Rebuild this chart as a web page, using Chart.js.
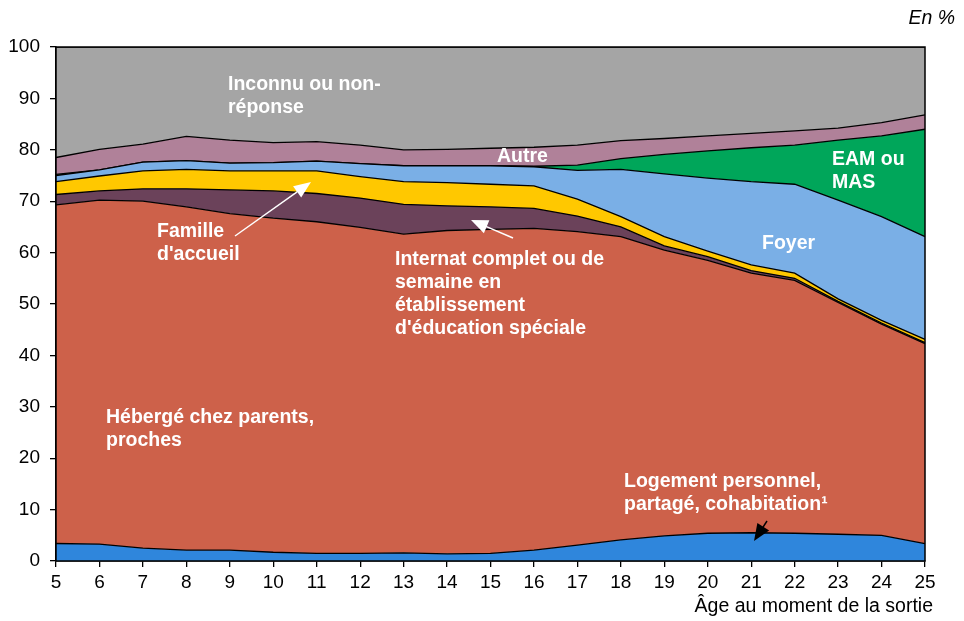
<!DOCTYPE html>
<html>
<head>
<meta charset="utf-8">
<script src="https://cdn.jsdelivr.net/npm/chart.js@4/dist/chart.umd.min.js"></script>
<style>
  html, body { margin: 0; padding: 0; background: #fff; }
  #wrap { width: 964px; height: 621px; position: relative; }
</style>
</head>
<body>
<div id="wrap"><canvas id="chart" width="964" height="621"></canvas></div>
<script>
const ages = [5, 6, 7, 8, 9, 10, 11, 12, 13, 14, 15, 16, 17, 18, 19, 20, 21, 22, 23, 24, 25];

// parts in %, from bottom to top of the stack
const logement = [3.4, 3.3, 2.5, 2.1, 2.1, 1.7, 1.5, 1.5, 1.6, 1.4, 1.5, 2.1, 3.1, 4.1, 4.9, 5.4, 5.5, 5.4, 5.2, 5.0, 3.4];
const heberge = [65.9, 66.9, 67.5, 66.8, 65.5, 65.0, 64.5, 63.4, 62.0, 62.9, 63.0, 62.6, 61.0, 59.0, 55.6, 53.1, 50.5, 49.2, 45.1, 41.1, 38.9];
const internat = [2.0, 1.8, 2.4, 3.5, 4.6, 5.3, 5.5, 5.7, 5.8, 4.8, 4.4, 3.9, 3.0, 1.9, 0.8, 0.7, 0.5, 0.4, 0.2, 0.2, 0.2];
const famille = [2.5, 2.9, 3.5, 3.8, 3.7, 3.9, 4.4, 4.2, 4.4, 4.5, 4.4, 4.4, 3.3, 2.0, 1.8, 1.1, 1.1, 1.0, 0.5, 0.5, 0.6];
const foyer = [1.2, 1.2, 1.7, 1.7, 1.5, 1.6, 1.9, 2.5, 3.1, 3.3, 3.6, 3.7, 5.6, 9.2, 12.2, 14.2, 16.2, 17.3, 19.2, 20.2, 20.0];
const eamMas = [0.2, 0, 0, 0, 0, 0, 0, 0, 0, 0, 0, 0.1, 1.0, 2.1, 3.8, 5.3, 6.6, 7.6, 11.7, 15.7, 20.9];
const autre = [3.3, 4.0, 3.5, 4.7, 4.5, 3.9, 3.8, 3.6, 3.1, 3.2, 3.4, 3.7, 3.9, 3.5, 3.1, 2.9, 2.8, 2.8, 2.3, 2.6, 2.8];
const inconnu = [21.5, 19.9, 18.9, 17.4, 18.1, 18.6, 18.4, 19.1, 20.0, 19.9, 19.7, 19.5, 19.1, 18.2, 17.8, 17.3, 16.8, 16.3, 15.8, 14.7, 13.2];

const yTicks = [0, 10, 20, 30, 40, 50, 60, 70, 80, 90, 100];

const FONT = 'Liberation Sans, Arial, sans-serif';

function layer(label, data, color, fill) {
    return {
        label: label,
        data: data,
        backgroundColor: color,
        borderColor: '#000',
        borderWidth: 1.3,
        pointRadius: 0,
        tension: 0,
        fill: fill,
    };
}

// white / black labels written on the areas
const notes = [
    { lines: ['Inconnu ou non-', 'réponse'], x: 228, y: 85 },
    { lines: ['Autre'], x: 497, y: 157 },
    { lines: ['EAM ou', 'MAS'], x: 832, y: 160 },
    { lines: ['Foyer'], x: 762, y: 244 },
    { lines: ['Famille', "d'accueil"], x: 157, y: 232 },
    { lines: ['Internat complet ou de', 'semaine en', 'établissement', "d'éducation spéciale"], x: 395, y: 260 },
    { lines: ['Hébergé chez parents,', 'proches'], x: 106, y: 418 },
    { lines: ['Logement personnel,', 'partagé, cohabitation¹'], x: 624, y: 482 },
];

const arrows = [
    { from: [235, 236], to: [311, 182], color: '#fff' },
    { from: [513, 238], to: [471, 220], color: '#fff' },
    { from: [767, 521], to: [754, 541], color: '#000' },
];

function drawArrow(ctx, a) {
    const [x1, y1] = a.from;
    const [x2, y2] = a.to;
    const ang = Math.atan2(y2 - y1, x2 - x1);
    const len = 17, half = 7;
    ctx.strokeStyle = a.color;
    ctx.fillStyle = a.color;
    ctx.lineWidth = 1.5;
    ctx.beginPath();
    ctx.moveTo(x1, y1);
    ctx.lineTo(x2 - Math.cos(ang) * len * 0.8, y2 - Math.sin(ang) * len * 0.8);
    ctx.stroke();
    ctx.beginPath();
    ctx.moveTo(x2, y2);
    ctx.lineTo(x2 - Math.cos(ang) * len + Math.sin(ang) * half, y2 - Math.sin(ang) * len - Math.cos(ang) * half);
    ctx.lineTo(x2 - Math.cos(ang) * len - Math.sin(ang) * half, y2 - Math.sin(ang) * len + Math.cos(ang) * half);
    ctx.closePath();
    ctx.fill();
}

const decorations = {
    id: 'decorations',
    afterDatasetsDraw(chart) {
        const ctx = chart.ctx;
        const area = chart.chartArea;
        ctx.save();
        // frame
        ctx.strokeStyle = '#000';
        ctx.lineWidth = 1.5;
        ctx.strokeRect(area.left, area.top, area.right - area.left, area.bottom - area.top);

        ctx.font = 'bold 19.5px ' + FONT;
        ctx.textBaseline = 'middle';
        ctx.textAlign = 'left';
        notes.forEach(n => {
            ctx.fillStyle = n.color || '#fff';
            n.lines.forEach((t, i) => ctx.fillText(t, n.x, n.y + i * 23));
        });
        arrows.forEach(a => drawArrow(ctx, a));

        ctx.fillStyle = '#000';
        ctx.font = '19.5px ' + FONT;
        ctx.textAlign = 'right';
        ctx.fillText('Âge au moment de la sortie', 933, 607);
        ctx.font = 'italic 19.5px ' + FONT;
        ctx.fillText('En %', 955, 19);
        ctx.restore();
    }
};

new Chart(document.getElementById('chart'), {
    type: 'line',
    data: {
        labels: ages,
        datasets: [
            layer('Logement personnel, partagé, cohabitation', logement, '#2F86DC', 'origin'),
            layer('Hébergé chez parents, proches', heberge, '#CD614A', '-1'),
            layer("Internat complet ou de semaine en établissement d'éducation spéciale", internat, '#6B425A', '-1'),
            layer("Famille d'accueil", famille, '#FFC800', '-1'),
            layer('Foyer', foyer, '#7AAFE6', '-1'),
            layer('EAM ou MAS', eamMas, '#00A65A', '-1'),
            layer('Autre', autre, '#B08199', '-1'),
            layer('Inconnu ou non-réponse', inconnu, '#A5A5A5', '-1'),
        ],
    },
    options: {
        responsive: false,
        animation: false,
        layout: { padding: { top: 47, right: 39, left: 0, bottom: 0 } },
        plugins: {
            legend: { display: false },
            tooltip: { enabled: false },
        },
        scales: {
            x: {
                offset: false,
                grid: { drawOnChartArea: false, color: '#000', tickLength: 6, lineWidth: 1.3 },
                border: { color: '#000', width: 1.5 },
                ticks: { color: '#000', font: { family: FONT, size: 19 }, padding: 4, autoSkip: false, maxRotation: 0 },
                afterFit: s => { s.height = 60; },
            },
            y: {
                stacked: true,
                min: 0,
                max: 100,
                afterBuildTicks: s => { s.ticks = yTicks.map(v => ({ value: v })); },
                grid: { drawOnChartArea: false, color: '#000', tickLength: 6, lineWidth: 1.3 },
                border: { color: '#000', width: 1.5 },
                ticks: { color: '#000', font: { family: FONT, size: 19 }, padding: 10 },
                afterFit: s => { s.width = 56; },
            },
        },
    },
    plugins: [decorations],
});
</script>
</body>
</html>
